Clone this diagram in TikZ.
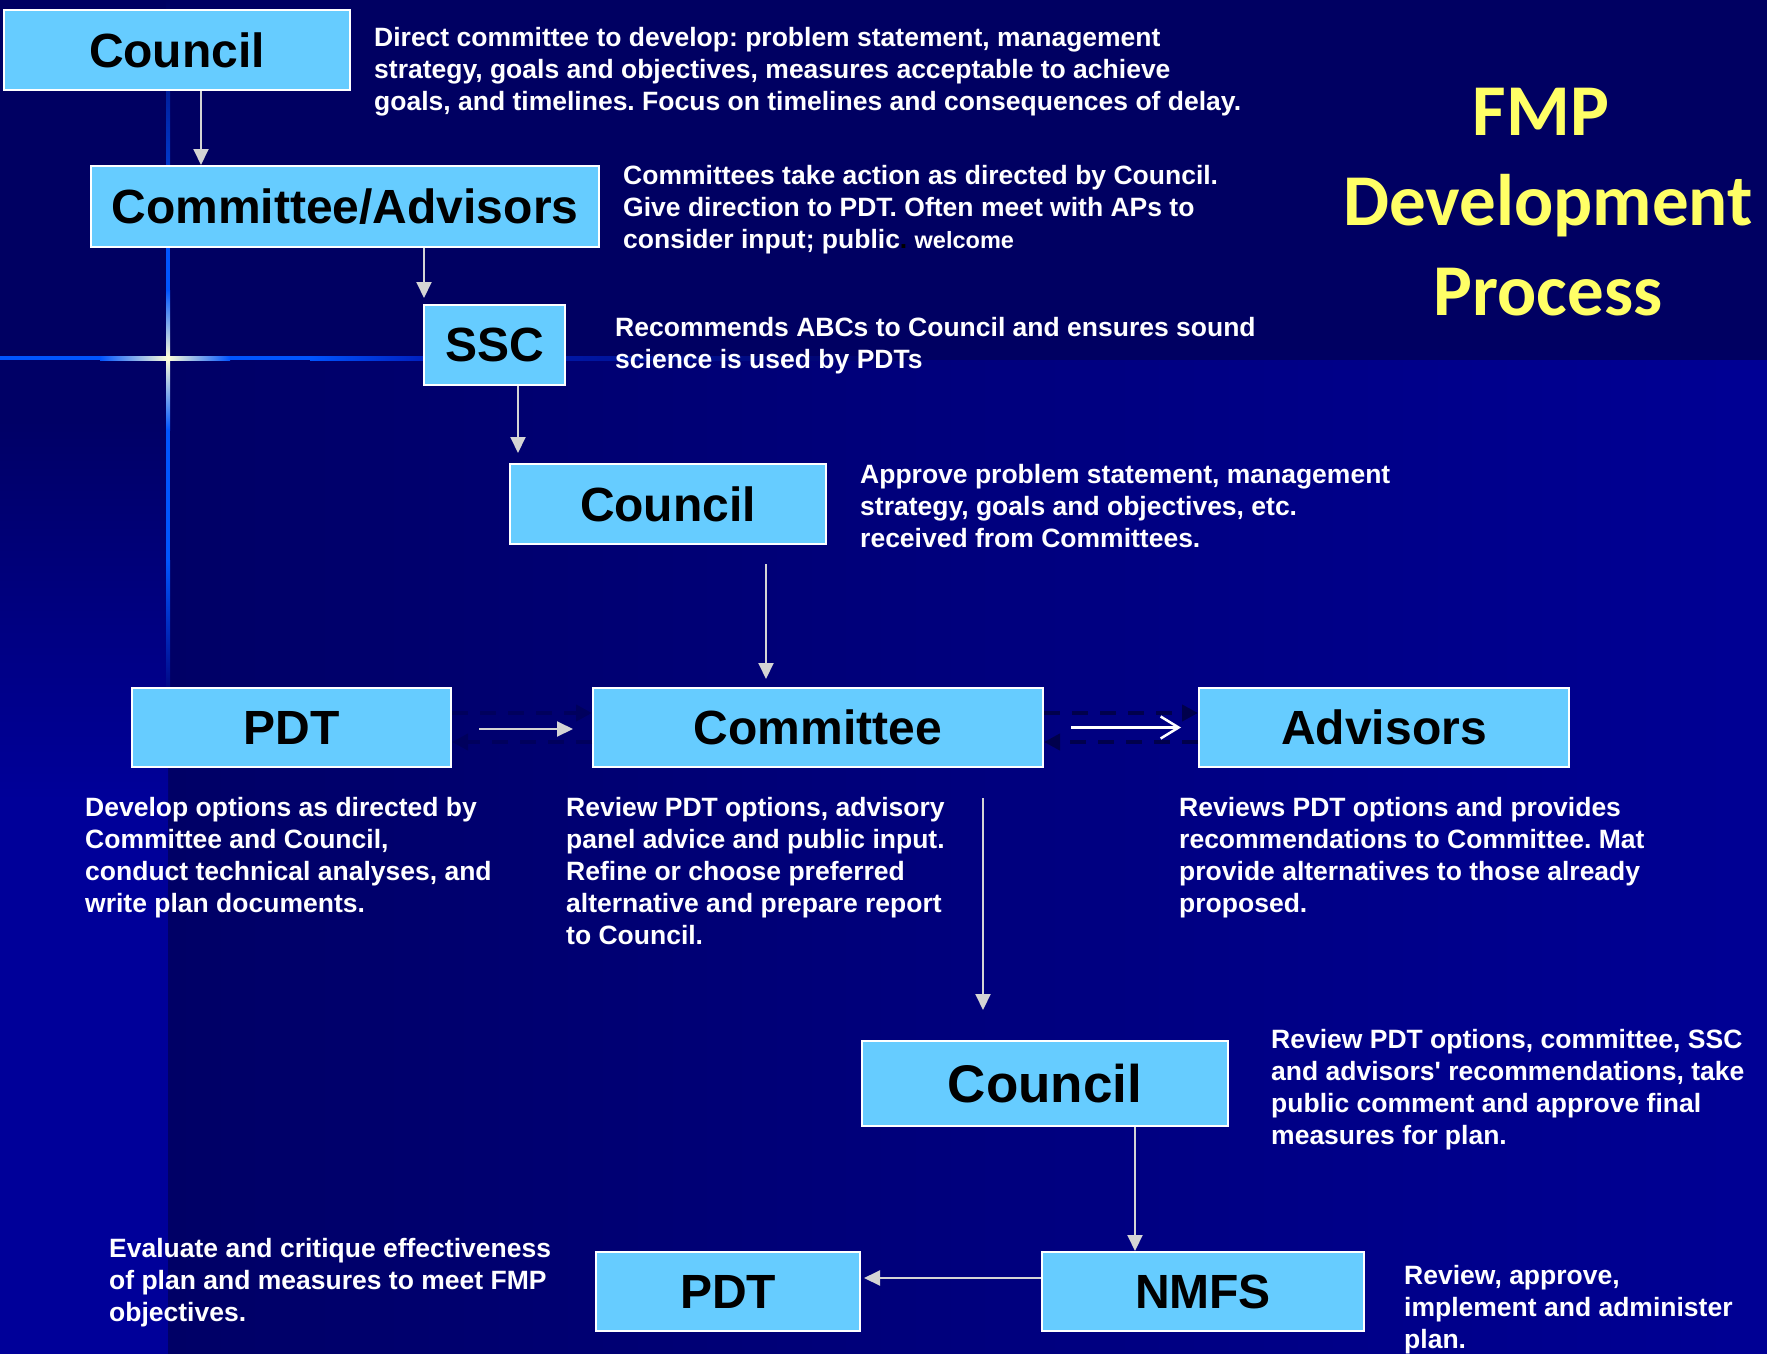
\documentclass[tikz,border=0pt]{standalone}
\usepackage{fontspec}
\setmainfont{Liberation Sans}[Ligatures=TeXOff]
\newfontfamily\titlefont{Carlito}
\usetikzlibrary{arrows.meta,calc}
\frenchspacing
\definecolor{bgtop}{HTML}{000062}
\definecolor{bgdark}{HTML}{000066}
\definecolor{bgbright}{HTML}{000094}
\definecolor{bgstrip}{HTML}{000099}
\definecolor{flblue}{HTML}{0055FF}
\definecolor{flwhite}{HTML}{FFFFD8}
\definecolor{fldim}{HTML}{0022C0}
\definecolor{boxblue}{HTML}{66CCFF}
\definecolor{arrgray}{HTML}{D4D4D4}
\definecolor{dashdark}{HTML}{00004C}
\definecolor{titleyellow}{HTML}{FFFF66}
\begin{document}
\begin{tikzpicture}[x=1pt,y=-1pt,
  box/.style={draw=white, line width=2pt, fill=boxblue, inner sep=0pt,
    font=\fontsize{48}{56}\selectfont\bfseries, text=black},
  desc/.style={anchor=north west, inner sep=0pt, align=left, text=white,
    font=\fontsize{26.5}{32}\selectfont\bfseries},
  arr/.style={draw=arrgray, line width=2pt, -{Triangle[length=16pt,width=15pt]}},
  openarr/.style={draw=white, line width=2.5pt, -{Straight Barb[length=18pt,width=22pt]}},
  dasharr/.style={draw=dashdark, line width=4.5pt, dash pattern=on 16pt off 12pt,
    -{Triangle[length=16pt,width=16pt]}}
]
\useasboundingbox (0,0) rectangle (1767,1354);
% background
\fill[bgtop] (0,0) rectangle (1767,360);
\shade[left color=bgdark, right color=bgbright] (168,360) rectangle (1767,1354);
\shade[top color=bgdark, bottom color=bgstrip] (0,420) rectangle (168,800);
\fill[bgdark] (0,360) rectangle (168,420);
\fill[bgstrip] (0,800) rectangle (168,1354);
% lens flare
\shade[top color=bgtop, bottom color=flblue] (166,0) rectangle (170,247);
\fill[flblue] (166,247) rectangle (170,290);
\shade[top color=flblue, bottom color=flwhite] (166,290) rectangle (170,358);
\shade[top color=flwhite, bottom color=flblue] (166,358) rectangle (170,430);
\fill[flblue] (166,430) rectangle (170,560);
\shade[top color=flblue, bottom color=bgdark!60!bgstrip] (166,560) rectangle (170,700);
\fill[flblue] (0,356) rectangle (100,360);
\shade[left color=flblue, right color=flwhite] (100,356) rectangle (168,360);
\shade[left color=flwhite, right color=flblue] (168,356) rectangle (230,360);
\fill[flblue] (230,356) rectangle (310,360);
\shade[left color=flblue, right color=fldim] (310,356) rectangle (420,360);
\shade[left color=fldim, right color=bgdark] (420,356) rectangle (900,360);

% title
\node[anchor=north, inner sep=0pt, align=center, text=titleyellow,
  font=\titlefont\bfseries\fontsize{73}{90}\selectfont] (title) at (1548,88)
  {FMP\hspace*{14pt}\\Development\\Process};

% boxes
\node[box, minimum width=346pt, minimum height=80pt] (c1) at (177,50) {Council};
\node[box, minimum width=508pt, minimum height=81pt] (ca) at (345,206.5) {Committee/Advisors};
\node[box, minimum width=141pt, minimum height=80pt] (ssc) at (494.5,345) {SSC};
\node[box, minimum width=316pt, minimum height=80pt] (c2) at (668,504) {Council};
\node[box, minimum width=319pt, minimum height=79pt] (pdt1) at (291.5,727.5) {PDT};
\node[box, minimum width=450pt, minimum height=79pt] (com) at (818,727.5) {Committee};
\node[box, minimum width=370pt, minimum height=79pt] (adv) at (1384,727.5) {Advisors};
\node[box, minimum width=366pt, minimum height=85pt, font=\fontsize{53}{60}\selectfont\bfseries] (c3) at (1045,1083.5) {Council};
\node[box, minimum width=322pt, minimum height=79pt] (nmfs) at (1203,1291.5) {NMFS};
\node[box, minimum width=264pt, minimum height=79pt] (pdt2) at (728,1291.5) {PDT};

% descriptions
\node[desc] (d1) at (374,27) {Direct committee to develop: problem statement, management\\strategy, goals and objectives, measures acceptable to achieve\\goals, and timelines. Focus on timelines and consequences of delay.};
\node[desc] (d2) at (623,165) {Committees take action as directed by Council.\\Give direction to PDT. Often meet with APs to\\consider input; public{\color{black}.} {\fontsize{23.5}{32}\selectfont welcome}};
\node[desc] (d3) at (615,317) {Recommends ABCs to Council and ensures sound\\science is used by PDTs};
\node[desc] (d4) at (860,464) {Approve problem statement, management\\strategy, goals and objectives, etc.\\received from Committees.};
\node[desc] (d5) at (85,797) {Develop options as directed by\\Committee and Council,\\conduct technical analyses, and\\write plan documents.};
\node[desc] (d6) at (566,797) {Review PDT options, advisory\\panel advice and public input.\\Refine or choose preferred\\alternative and prepare report\\to Council.};
\node[desc] (d7) at (1179,797) {Reviews PDT options and provides\\recommendations to Committee. Mat\\provide alternatives to those already\\proposed.};
\node[desc] (d8) at (1271,1029) {Review PDT options, committee, SSC\\and advisors' recommendations, take\\public comment and approve final\\measures for plan.};
\node[desc] (d9) at (109,1238) {Evaluate and critique effectiveness\\of plan and measures to meet FMP\\objectives.};
\node[desc] (d10) at (1404,1265) {Review, approve,\\implement and administer\\plan.};

% connectors
\draw[arr] ([xshift=24pt]c1.south) -- ([xshift=-144pt]ca.north);
\draw[arr] ([xshift=79pt]ca.south) -- ([xshift=-70.5pt,yshift=6pt]ssc.north);
\draw[arr] ([xshift=23.5pt]ssc.south) -- ([xshift=-150pt,yshift=10pt]c2.north);
\draw[arr] ([xshift=98pt,yshift=-19pt]c2.south) -- ([xshift=-52pt,yshift=8pt]com.north);
% faint dashed pair PDT <-> Committee
\draw[dasharr, draw=dashdark!35!bgdark] ([yshift=14.5pt]pdt1.east) -- ([yshift=14.5pt]com.west);
\draw[dasharr, draw=dashdark!35!bgdark] ([yshift=-14.5pt]com.west) -- ([yshift=-14.5pt]pdt1.east);
\draw[arr] ([xshift=27pt,yshift=-1.5pt]pdt1.east) -- ([xshift=-19pt,yshift=-1.5pt]com.west);
% dashed pair Committee <-> Advisors
\draw[dasharr] ([yshift=14.5pt]com.east) -- ([yshift=14.5pt]adv.west);
\draw[dasharr] ([yshift=-14.5pt]adv.west) -- ([yshift=-14.5pt]com.east);
\draw[openarr] ([xshift=27pt]com.east) -- ([xshift=-17pt]adv.west);
\draw[arr] ([xshift=165pt,yshift=-30pt]com.south) -- ([xshift=-62pt,yshift=30pt]c3.north);
\draw[arr] ([xshift=90pt]c3.south) -- ([xshift=-68pt]nmfs.north);
\draw[arr] ([yshift=13.5pt]nmfs.west) -- ([xshift=3pt,yshift=13.5pt]pdt2.east);
\end{tikzpicture}
\end{document}
